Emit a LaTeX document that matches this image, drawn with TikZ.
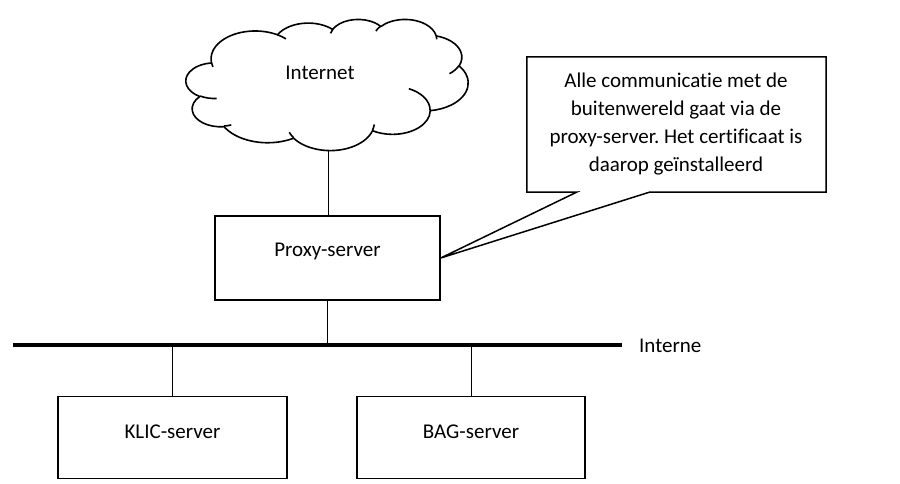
\documentclass[tikz,border=0pt]{standalone}
\usepackage{fontspec}
\setmainfont{Carlito}[Ligatures={NoCommon}]
\newcommand\carc[4]{arc[x radius=#1, y radius=#2, start angle={vpar(#1,#2,#3)}, end angle={vpar(#1,#2,#3+#4)}]}
\begin{document}
\frenchspacing
\begin{tikzpicture}[x=1pt,y=-1pt,
  declare function={vpar(\a,\b,\t)=\t+mod(atan2(\a*sin(\t),\b*cos(\t))-\t+900,360)-180;},
  txt/.style={font=\fontsize{21}{27.7}\selectfont, inner sep=0pt},
  srvbox/.style={draw, line width=1.4pt, inner sep=0pt},
  conn/.style={line width=0.8pt},
  bus/.style={line width=3.6pt},
  cloudline/.style={line width=1.6pt, line join=round},
  outline/.style={line width=1.5pt, line join=miter}]
\useasboundingbox (0,0) rectangle (900,483);
% cloud (Office cloud geometry, 432 x 432 units)
\begin{scope}[shift={(186,19)}, x=0.653pt, y=-0.3035pt]
  \draw[cloudline, fill=white] (39,143.7)
    \carc{67.53}{91.90}{-190.487}{123.781}
    \carc{53.33}{72.67}{-144.102}{89.945}
    \carc{43.65}{59.45}{-145.808}{99.723}
    \carc{48.57}{65.95}{-130.986}{117.242}
    \carc{53.33}{72.73}{-78.709}{109.027}
    \carc{67.75}{92.20}{-46.267}{130.269}
    \carc{57.85}{78.67}{0.625}{114.033}
    \carc{67.52}{92.15}{22.452}{115.173}
    \carc{77.20}{105.43}{66.243}{75.711}
    \carc{43.60}{59.18}{-274.942}{146.736}
    \carc{43.45}{59.45}{-246.829}{152.519}
    -- cycle;
  \draw[cloudline]
    (46.93,261.77) \carc{43.45}{59.45}{86.742}{26.430}
    (69.28,348.99) \carc{43.60}{59.18}{73.610}{11.447}
    (164.78,390.90) \carc{67.52}{92.15}{137.624}{14.081}
    (288.27,347.51) \carc{67.52}{92.15}{6.453}{15.998}
    (341.29,229.54) \carc{57.85}{78.67}{-70.292}{70.917}
    (417.98,153.54) \carc{53.33}{72.73}{30.318}{27.752}
    (383.24,54.26) \carc{48.57}{65.95}{-13.744}{14.859}
    (290.78,39.52) \carc{48.57}{65.95}{-149.181}{18.195}
    (221.41,47.20) \carc{43.65}{59.45}{-163.494}{17.686}
    (140.00,51.92) \carc{67.53}{91.90}{-66.707}{12.319}
    (41.27,157.89) \carc{67.53}{91.90}{157.654}{11.858};
\end{scope}
\coordinate (cloudbottom) at (328,149.5);
\node[txt] (inettxt) at (320,73) {Internet};
% servers
\node[srvbox, minimum width=225pt, minimum height=84pt,
      label={[txt, yshift=7pt]center:Proxy-server}] (proxy) at (327.5,258) {};
\node[srvbox, minimum width=229pt, minimum height=82pt,
      label={[txt, yshift=6pt]center:KLIC-server}] (klic) at (172.5,437.5) {};
\node[srvbox, minimum width=228pt, minimum height=82pt,
      label={[txt, yshift=6pt]center:BAG-server}] (bag) at (471,437.5) {};
% bus
\coordinate (busL) at (13,345);
\coordinate (busR) at (622,345);
\draw[bus] (busL) -- (busR);
\node[txt, anchor=west] (interne) at (639,346) {Interne};
% connectors
\draw[conn] (cloudbottom) -- (cloudbottom |- proxy.north);
\draw[conn] (proxy.south) -- (proxy.south |- busL);
\draw[conn] (klic.north) -- (klic.north |- busL);
\draw[conn] (bag.north) -- (bag.north |- busL);
% callout
\node[minimum width=299pt, minimum height=135pt, inner sep=0pt] (note) at (676.5,124.5) {};
\node[txt, align=center] (notetxt) at (676,124) {Alle communicatie met de\\buitenwereld gaat via de\\proxy-server. Het certificaat is\\daarop geïnstalleerd};
\coordinate (pa) at (577,192);
\coordinate (pb) at (650,192);
\draw[outline] (note.south west) -- (note.north west) -- (note.north east) -- (note.south east)
  -- (pb) -- (proxy.east) -- (pa) -- cycle;
\end{tikzpicture}
\end{document}
